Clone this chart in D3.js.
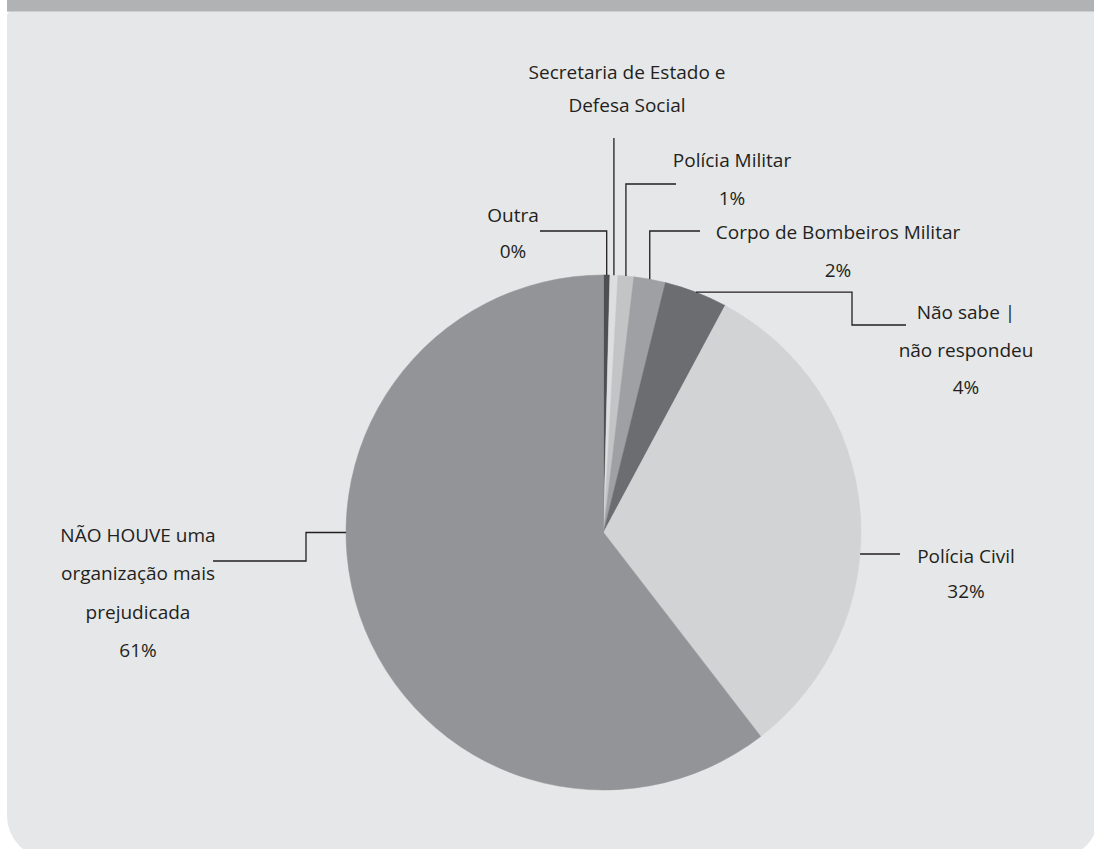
<!DOCTYPE html>
<html lang="pt">
<head>
<meta charset="utf-8">
<script src="https://cdn.jsdelivr.net/npm/d3@7"></script>
<style>
  html, body { margin: 0; padding: 0; background: #ffffff; }
  svg { display: block; }
  text { font-family: "Open Sans", "Noto Sans", sans-serif; font-size: 19px; fill: #231f20; }
</style>
</head>
<body>
<svg id="chart" width="1094" height="849"></svg>
<script>
// Organização mais prejudicada — shares of responses, clockwise from 12 o'clock
const categories = [
  "Outra",
  "Secretaria de Estado e Defesa Social",
  "Polícia Militar",
  "Corpo de Bombeiros Militar",
  "Não sabe | não respondeu",
  "Polícia Civil",
  "NÃO HOUVE uma organização mais prejudicada"
];
const values = [0.4, 0.5, 1, 2, 4, 32, 61];
const percentLabels = ["0%", "", "1%", "2%", "4%", "32%", "61%"];
const labelLines = [
  ["Outra"],
  ["Secretaria de Estado e", "Defesa Social"],
  ["Polícia Militar"],
  ["Corpo de Bombeiros Militar"],
  ["Não sabe |", "não respondeu"],
  ["Polícia Civil"],
  ["NÃO HOUVE uma", "organização mais", "prejudicada"]
];
const sliceColors = ["#4e4f51", "#dddee0", "#c3c4c6", "#9fa0a3", "#6c6d70", "#d2d3d5", "#939497"];

// Label placement and leader-line routing for each slice
const layout = [
  { x: 513, y: 222, gap: 36, leader: "up",   elbowY: 231, endX: 540 },
  { x: 627, y: 79,  gap: 33, leader: "up",   elbowY: 138, endX: null },
  { x: 732, y: 167, gap: 38, leader: "up",   elbowY: 184, endX: 676 },
  { x: 838, y: 239, gap: 38, leader: "up",   elbowY: 231, endX: 700 },
  { x: 966, y: 319, gap: 37.5, leader: "step", stepX: 852, dropY: 325, endX: 906 },
  { x: 966, y: 563, gap: 35, leader: "flat", atY: 554, endX: 900 },
  { x: 138, y: 542, gap: 38.3, leader: "stepLeft", atY: 532.5, stepX: 306, dropY: 561, endX: 213 }
];

const svg = d3.select("#chart");
const W = 1094, H = 849;

// Frame: dark strip on top, light rounded panel below
svg.append("rect").attr("x", 7).attr("y", 0).attr("width", W - 7).attr("height", 11).attr("fill", "#b1b2b4");
svg.append("rect").attr("x", 7).attr("y", 11).attr("width", W - 7).attr("height", 1).attr("fill", "#cdced0");

function panelPath(x0, y0, x1, y1, rt, rb) {
  const p = d3.path();
  p.moveTo(x0 + rt, y0);
  p.lineTo(x1 - rt, y0);
  p.arcTo(x1, y0, x1, y0 + rt, rt);
  p.lineTo(x1, y1 - rb);
  p.arcTo(x1, y1, x1 - rb, y1, rb);
  p.lineTo(x0 + rb, y1);
  p.arcTo(x0, y1, x0, y1 - rb, rb);
  p.lineTo(x0, y0 + rt);
  p.arcTo(x0, y0, x0 + rt, y0, rt);
  p.closePath();
  return p.toString();
}
svg.append("path").attr("d", panelPath(7, 12, 1098.5, 858, 4, 42)).attr("fill", "#e6e7e8");

// Pie
const cx = 603.5, cy = 532.5, R = 257.5;
const pie = d3.pie().sort(null).value(d => d.value).startAngle(0).endAngle(2 * Math.PI);
const data = categories.map((c, i) => ({ name: c, value: values[i], color: sliceColors[i], pct: percentLabels[i], lines: labelLines[i], lay: layout[i] }));
const arcs = pie(data);
const arc = d3.arc().innerRadius(0).outerRadius(R);

const g = svg.append("g").attr("transform", `translate(${cx},${cy})`);
g.selectAll("path.slice")
  .data(arcs)
  .join("path")
  .attr("class", "slice")
  .attr("d", arc)
  .attr("fill", d => d.data.color)
  .attr("stroke", d => d.data.color)
  .attr("stroke-width", 0.5);

// Leader lines
function leaderPoints(a) {
  const L = a.data.lay;
  const mid = (a.startAngle + a.endAngle) / 2;
  const ex = cx + R * Math.sin(mid), ey = cy - R * Math.cos(mid);
  if (L.leader === "up") {
    const pts = [[ex, ey], [ex, L.elbowY]];
    if (L.endX !== null) pts.push([L.endX, L.elbowY]);
    return pts;
  }
  if (L.leader === "step") {
    return [[ex, ey], [L.stepX, ey], [L.stepX, L.dropY], [L.endX, L.dropY]];
  }
  if (L.leader === "flat") {
    const dx = Math.sqrt(R * R - (L.atY - cy) ** 2);
    return [[cx + dx, L.atY], [L.endX, L.atY]];
  }
  // stepLeft
  const dx = Math.sqrt(R * R - (L.atY - cy) ** 2);
  return [[cx - dx, L.atY], [L.stepX, L.atY], [L.stepX, L.dropY], [L.endX, L.dropY]];
}
const line = d3.line();
svg.append("g").selectAll("path.leader")
  .data(arcs)
  .join("path")
  .attr("class", "leader")
  .attr("d", d => line(leaderPoints(d)))
  .attr("fill", "none")
  .attr("stroke", "#231f20")
  .attr("stroke-width", 1.3);

// Labels: category name lines, then the percentage
const labels = svg.append("g").selectAll("text.label")
  .data(arcs)
  .join("text")
  .attr("class", "label")
  .attr("text-anchor", "middle");
labels.each(function (d) {
  const L = d.data.lay;
  const rows = d.data.pct ? d.data.lines.concat([d.data.pct]) : d.data.lines;
  d3.select(this).selectAll("tspan")
    .data(rows)
    .join("tspan")
    .attr("x", L.x)
    .attr("y", (r, i) => L.y + i * L.gap)
    .text(r => r);
});
</script>
</body>
</html>
